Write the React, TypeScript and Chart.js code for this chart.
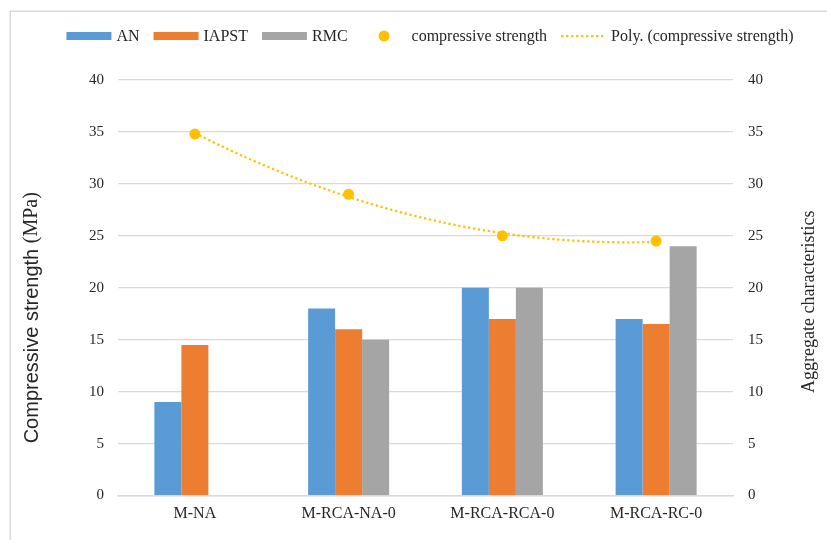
import { useEffect, useRef } from 'react';
import { Chart, registerables } from 'chart.js';

Chart.register(...registerables);

// Mix designs along the horizontal axis
const categories = ['M-NA', 'M-RCA-NA-0', 'M-RCA-RCA-0', 'M-RCA-RC-0'];

// Aggregate characteristics (bars)
const anValues = [9, 18, 20, 17];
const iapstValues = [14.5, 16, 17, 16.5];
const rmcValues: (number | null)[] = [null, 15, 20, 24];

// Compressive strength (MPa), one point per mix
const strengthValues = [34.8, 29, 25, 24.5];

// Value axis range shared by both vertical axes
const axisMin = 0;
const axisMax = 40;
const axisStep = 5;

const SERIF = "'Times New Roman', 'Liberation Serif', serif";
const SANS = "'Liberation Sans', Arial, sans-serif";
const TEXT = '#262626';
const GRID = '#d9d9d9';
const BLUE = '#5B9BD5';
const ORANGE = '#ED7D31';
const GREY = '#A5A5A5';
const GOLD = '#FFC000';

// Mix i sits at position i + 1 on the shared horizontal axis
const atMix = (vals: (number | null)[]) => vals.map((y, i) => ({ x: i + 1, y }));

// Least-squares quadratic through (1..n, ys): returns [c0, c1, c2]
function quadraticFit(ys: number[]): number[] {
  const n = ys.length;
  let s1 = 0, s2 = 0, s3 = 0, s4 = 0, t0 = 0, t1 = 0, t2 = 0;
  ys.forEach((y, i) => {
    const x = i + 1;
    s1 += x; s2 += x * x; s3 += x ** 3; s4 += x ** 4;
    t0 += y; t1 += x * y; t2 += x * x * y;
  });
  const m = [
    [n, s1, s2, t0],
    [s1, s2, s3, t1],
    [s2, s3, s4, t2],
  ];
  for (let c = 0; c < 3; c++) {
    for (let r = c + 1; r < 3; r++) {
      const f = m[r][c] / m[c][c];
      for (let k = c; k < 4; k++) m[r][k] -= f * m[c][k];
    }
  }
  const out = [0, 0, 0];
  for (let r = 2; r >= 0; r--) {
    let v = m[r][3];
    for (let k = r + 1; k < 3; k++) v -= m[r][k] * out[k];
    out[r] = v / m[r][r];
  }
  return out;
}

// Polynomial trend line sampled between the first and last mix
function trendPoints(ys: number[], steps = 90) {
  const [a, b, c] = quadraticFit(ys);
  const pts: { x: number; y: number }[] = [];
  const x0 = 1, x1 = ys.length;
  for (let i = 0; i <= steps; i++) {
    const x = x0 + ((x1 - x0) * i) / steps;
    pts.push({ x, y: a + b * x + c * x * x });
  }
  return pts;
}

type LegendItem = { kind: 'box' | 'dot' | 'dots'; color: string; text: string };
const legendItems: LegendItem[] = [
  { kind: 'box', color: BLUE, text: 'AN' },
  { kind: 'box', color: ORANGE, text: 'IAPST' },
  { kind: 'box', color: GREY, text: 'RMC' },
  { kind: 'dot', color: GOLD, text: 'compressive strength' },
  { kind: 'dots', color: GOLD, text: 'Poly. (compressive strength)' },
];

const decorPlugin = {
  id: 'decor',
  beforeDraw(chart: Chart) {
    const ctx = chart.ctx;
    ctx.save();
    ctx.strokeStyle = GRID;
    ctx.lineWidth = 1.5;
    ctx.beginPath();
    ctx.moveTo(10.25, chart.height);
    ctx.lineTo(10.25, 11.25);
    ctx.lineTo(chart.width, 11.25);
    ctx.stroke();
    ctx.restore();
  },
  afterDraw(chart: Chart) {
    const ctx = chart.ctx;
    ctx.save();

    // Legend row
    ctx.font = `16px ${SERIF}`;
    ctx.textBaseline = 'middle';
    ctx.textAlign = 'left';
    const sym = 45, gapText = 5, gapItem = 14;
    const widths = legendItems.map((it) => sym + gapText + ctx.measureText(it.text).width);
    const total = widths.reduce((s, w) => s + w, 0) + gapItem * (legendItems.length - 1);
    let x = 430 - total / 2;
    const ly = 36;
    legendItems.forEach((it, i) => {
      if (it.kind === 'box') {
        ctx.fillStyle = it.color;
        ctx.fillRect(x, ly - 4, sym, 8);
      } else if (it.kind === 'dot') {
        ctx.fillStyle = it.color;
        ctx.beginPath();
        ctx.arc(x + sym / 2, ly, 5.5, 0, Math.PI * 2);
        ctx.fill();
      } else {
        ctx.strokeStyle = it.color;
        ctx.lineWidth = 2.25;
        ctx.setLineDash([2.25, 2.75]);
        ctx.beginPath();
        ctx.moveTo(x, ly);
        ctx.lineTo(x + sym, ly);
        ctx.stroke();
        ctx.setLineDash([]);
      }
      ctx.fillStyle = TEXT;
      ctx.fillText(it.text, x + sym + gapText, ly + 1);
      x += widths[i] + gapItem;
    });

    // Axis titles
    const area = chart.chartArea;
    const cy = (area.top + area.bottom) / 2;
    ctx.fillStyle = TEXT;
    ctx.textBaseline = 'middle';

    const partA = 'Compressive strength ';
    const partB = '(MPa)';
    const size = 20;
    ctx.font = `${size}px ${SANS}`;
    const wA = ctx.measureText(partA).width;
    ctx.font = `${size}px ${SERIF}`;
    const wB = ctx.measureText(partB).width;
    ctx.save();
    ctx.translate(32, cy + 30);
    ctx.rotate(-Math.PI / 2);
    ctx.textAlign = 'left';
    ctx.font = `${size}px ${SANS}`;
    ctx.fillText(partA, -(wA + wB) / 2, 0);
    ctx.font = `${size}px ${SERIF}`;
    ctx.fillText(partB, -(wA + wB) / 2 + wA, 0);
    ctx.restore();

    ctx.save();
    ctx.translate(809, cy + 14);
    ctx.rotate(-Math.PI / 2);
    ctx.textAlign = 'center';
    ctx.font = `18px ${SERIF}`;
    ctx.fillText('Aggregate characteristics', 0, 0);
    ctx.restore();

    ctx.restore();
  },
};

export default function App() {
  const canvasRef = useRef<HTMLCanvasElement | null>(null);

  useEffect(() => {
    const canvas = canvasRef.current;
    if (!canvas) return;
    const tickFont = { family: SERIF, size: 15 };

    const chart = new Chart(canvas, {
      type: 'bar',
      data: {
        datasets: [
          {
            type: 'line',
            label: 'compressive strength',
            data: atMix(strengthValues),
            showLine: false,
            pointRadius: 5.5,
            pointHoverRadius: 5.5,
            pointBackgroundColor: GOLD,
            pointBorderWidth: 0,
            borderColor: GOLD,
            order: 0,
          },
          {
            type: 'line',
            label: 'Poly. (compressive strength)',
            data: trendPoints(strengthValues),
            borderColor: GOLD,
            borderWidth: 2.25,
            borderDash: [2.25, 2.75],
            borderCapStyle: 'butt',
            pointRadius: 0,
            tension: 0,
            fill: false,
            order: 1,
          },
          { type: 'bar', label: 'AN', data: atMix(anValues), backgroundColor: BLUE, order: 2 },
          { type: 'bar', label: 'IAPST', data: atMix(iapstValues), backgroundColor: ORANGE, order: 2 },
          { type: 'bar', label: 'RMC', data: atMix(rmcValues), backgroundColor: GREY, order: 2 },
        ],
      },
      options: {
        responsive: false,
        animation: false,
        devicePixelRatio: 1,
        layout: { padding: { top: 80, left: 0, right: 0, bottom: 0 } },
        datasets: {
          bar: { barPercentage: 1, categoryPercentage: 0.527 },
        },
        plugins: {
          legend: { display: false },
          tooltip: { enabled: false },
          title: { display: false },
        },
        scales: {
          x: {
            type: 'linear',
            offset: false,
            min: 0.5,
            max: categories.length + 0.5,
            afterBuildTicks: (s: any) => {
              s.ticks = categories.map((_, i) => ({ value: i + 1 }));
            },
            grid: { display: false, drawTicks: false },
            border: { display: true, color: GRID, width: 1.5 },
            ticks: {
              font: { family: SERIF, size: 16 },
              color: TEXT,
              padding: 9,
              maxRotation: 0,
              autoSkip: false,
              callback: (v: any) => categories[Math.round(Number(v)) - 1] ?? '',
            },
            afterFit: (s: any) => { s.height = 44.5; },
          },
          y: {
            position: 'left',
            min: axisMin,
            max: axisMax,
            ticks: { stepSize: axisStep, font: tickFont, color: TEXT, padding: 14 },
            grid: { color: GRID, lineWidth: 1.25, drawTicks: false },
            border: { display: false },
            afterFit: (s: any) => { s.width = 118; },
          },
          y2: {
            position: 'right',
            min: axisMin,
            max: axisMax,
            ticks: { stepSize: axisStep, font: tickFont, color: TEXT, padding: 15 },
            grid: { display: false, drawTicks: false },
            border: { display: false },
            afterFit: (s: any) => { s.width = 94; },
          },
        },
      },
      plugins: [decorPlugin],
    } as any);

    return () => chart.destroy();
  }, []);

  return (
    <div style={{ position: 'absolute', left: 0, top: 0, width: 827, height: 540, background: '#fff' }}>
      <canvas ref={canvasRef} width={827} height={540} style={{ display: 'block' }} />
    </div>
  );
}
